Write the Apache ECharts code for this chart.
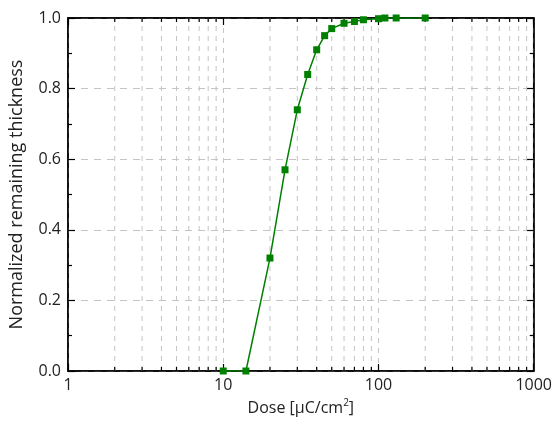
<!DOCTYPE html>
<html>
<head>
<meta charset="utf-8">
<script src="https://cdn.jsdelivr.net/npm/echarts@6/dist/echarts.min.js"></script>
<style>
html,body{margin:0;padding:0;background:#fff;}
#chart{width:555px;height:432px;}
</style>
</head>
<body>
<div id="chart"></div>
<script>
// Data
var doseValues = [10, 14, 20, 25, 30, 35, 40, 45, 50, 60, 70, 80, 100, 110, 130, 200];
var thicknessValues = [0, 0, 0.32, 0.57, 0.74, 0.84, 0.91, 0.95, 0.97, 0.985, 0.99, 0.995, 0.998, 1.0, 1.0, 1.0];
var minorDoseTicks = [2,3,4,5,6,7,8,9,20,30,40,50,60,70,80,90,200,300,400,500,600,700,800,900];
var xTickLabels = {1: '1', 10: '10', 100: '100', 1000: '1000'};
var yTickLabels = ['0.0','0.2','0.4','0.6','0.8','1.0'];

var FONT = 'Open Sans';
var GRID_COLOR = '#c4c4c4';

var chart = echarts.init(document.getElementById('chart'), null, {renderer: 'canvas'});

var pts = doseValues.map(function (d, i) { return [d, thicknessValues[i]]; });
var minorData = minorDoseTicks.map(function (v) { return [v, 0]; });

var axisLineStyle = {color: '#000', width: 1.5};

var option = {
  animation: false,
  backgroundColor: '#fff',
  grid: {left: 67, right: 20, top: 18, bottom: 61, containLabel: false,
         show: true, borderColor: '#000', borderWidth: 1.5, backgroundColor: 'transparent'},
  xAxis: [{
    type: 'log', logBase: 10, min: 1, max: 1000, position: 'bottom',
    axisLine: {show: true, onZero: false, lineStyle: axisLineStyle},
    axisTick: {show: true, inside: true, length: 7, lineStyle: {color: '#000', width: 1.2}},
    axisLabel: {show: true, margin: 6, fontFamily: FONT, fontSize: 16, color: '#222',
      formatter: function (v) { var k = Math.round(v); return xTickLabels[k] !== undefined ? xTickLabels[k] : String(k); }},
    splitLine: {show: true, lineStyle: {color: GRID_COLOR, type: [5, 5], width: 1}},
    name: 'Dose [μC/cm{sup|2}]', nameLocation: 'middle', nameGap: 27,
    nameTextStyle: {fontFamily: FONT, fontSize: 16, color: '#222',
      rich: {sup: {fontFamily: FONT, fontSize: 10, color: '#222', padding: [0, 0, 10, 0]}}}
  }, {
    type: 'log', logBase: 10, min: 1, max: 1000, position: 'top',
    axisLine: {show: true, onZero: false, lineStyle: axisLineStyle},
    axisTick: {show: true, inside: true, length: 7, lineStyle: {color: '#000', width: 1.2}},
    axisLabel: {show: false}, splitLine: {show: false}
  }],
  yAxis: [{
    type: 'value', min: 0, max: 1, interval: 0.2, position: 'left',
    axisLine: {show: true, onZero: false, lineStyle: axisLineStyle},
    axisTick: {show: true, inside: true, length: 7, lineStyle: {color: '#000', width: 1.2}},
    minorTick: {show: true, splitNumber: 2, length: 4, lineStyle: {color: '#000', width: 1.2}},
    axisLabel: {show: true, margin: 7, fontFamily: FONT, fontSize: 16, color: '#222',
      formatter: function (v) { return yTickLabels[Math.round(v / 0.2)]; }},
    splitLine: {show: true, lineStyle: {color: GRID_COLOR, type: [7, 6], width: 1}},
    name: 'Normalized remaining thickness', nameLocation: 'middle', nameGap: 42,
    nameTextStyle: {fontFamily: FONT, fontSize: 18, color: '#222'}
  }, {
    type: 'value', min: 0, max: 1, interval: 0.2, position: 'right',
    axisLine: {show: true, onZero: false, lineStyle: axisLineStyle},
    axisTick: {show: true, inside: true, length: 7, lineStyle: {color: '#000', width: 1.2}},
    minorTick: {show: true, splitNumber: 2, length: 4, lineStyle: {color: '#000', width: 1.2}},
    axisLabel: {show: false}, splitLine: {show: false}
  }],
  series: [{
    type: 'custom',
    xAxisIndex: 0, yAxisIndex: 0,
    silent: true, clip: false, z: 1,
    encode: {x: 0, y: 1},
    data: minorData,
    renderItem: function (params, api) {
      var v = api.value(0);
      var b = api.coord([v, 0]);
      var t = api.coord([v, 1]);
      return {
        type: 'group',
        children: [{
          type: 'line',
          shape: {x1: b[0], y1: b[1], x2: t[0], y2: t[1]},
          style: {stroke: GRID_COLOR, lineWidth: 1, lineDash: [5, 5]}
        }, {
          type: 'line',
          shape: {x1: b[0], y1: b[1], x2: b[0], y2: b[1] - 4},
          style: {stroke: '#000', lineWidth: 1.2}
        }, {
          type: 'line',
          shape: {x1: t[0], y1: t[1], x2: t[0], y2: t[1] + 4},
          style: {stroke: '#000', lineWidth: 1.2}
        }]
      };
    }
  }, {
    type: 'line',
    xAxisIndex: 1, yAxisIndex: 1,
    data: [], silent: true, symbol: 'none'
  }, {
    type: 'line',
    xAxisIndex: 0, yAxisIndex: 0,
    data: pts,
    symbol: 'rect', symbolSize: 7,
    showSymbol: true, clip: true, z: 3,
    lineStyle: {color: '#008000', width: 1.5},
    itemStyle: {color: '#008000'}
  }]
};
chart.setOption(option);
</script>
</body>
</html>
